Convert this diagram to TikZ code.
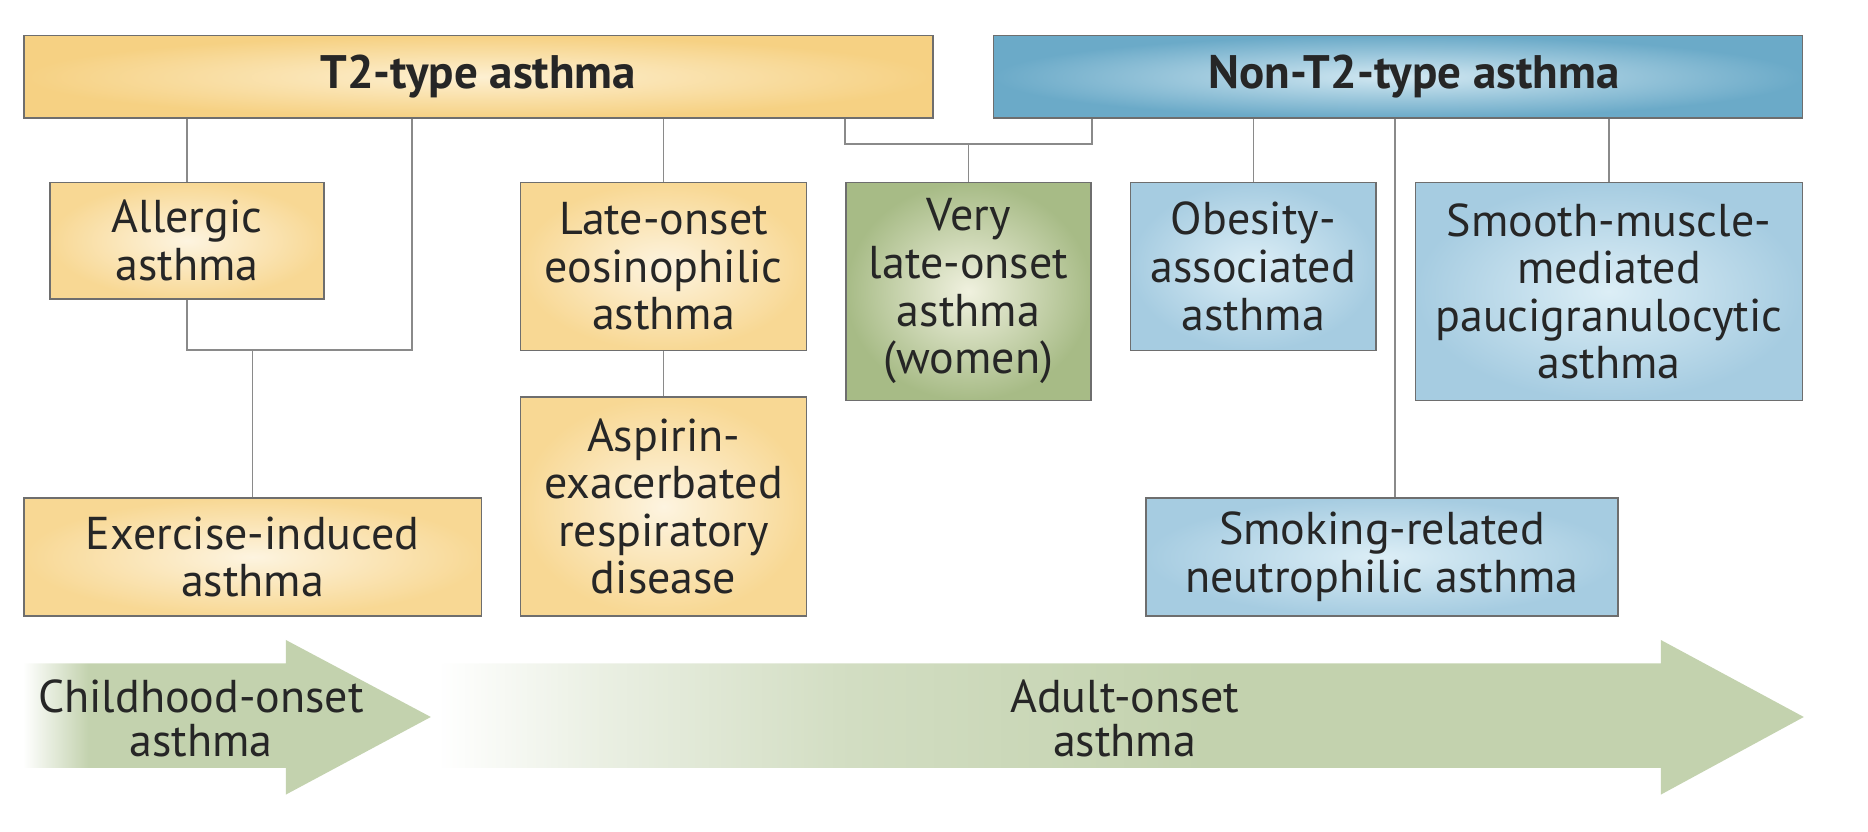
\documentclass[tikz,border=0pt]{standalone}
\usepackage{fontspec}
\usetikzlibrary{fadings}
\setmainfont{PT Sans}
\definecolor{txt}{HTML}{262626}
\definecolor{bordergrey}{HTML}{6E6E6E}
\definecolor{linegrey}{HTML}{8A8A8A}
\definecolor{ohead}{HTML}{F6D183}
\definecolor{oheadin}{HTML}{FDF0D2}
\definecolor{obox}{HTML}{F8D894}
\definecolor{oboxin}{HTML}{FDF4E0}
\definecolor{bhead}{HTML}{6BAAC8}
\definecolor{bheadin}{HTML}{D2E8F2}
\definecolor{bbox}{HTML}{A6CCE1}
\definecolor{bboxin}{HTML}{DCEEF6}
\definecolor{gbox}{HTML}{A7BB86}
\definecolor{gboxin}{HTML}{F0F1DF}
\definecolor{arrowgreen}{HTML}{C3D2AE}
\pgfdeclarehorizontalshading{childmask}{100bp}{color(0bp)=(black); color(25bp)=(black); color(33bp)=(white); color(100bp)=(white)}
\pgfdeclarefading{childfd}{\pgfuseshading{childmask}}
\pgfdeclarehorizontalshading{adultmask}{100bp}{color(0bp)=(black); color(25bp)=(black); color(31bp)=(white!35!black); color(40bp)=(white!75!black); color(53bp)=(white); color(100bp)=(white)}
\pgfdeclarefading{adultfd}{\pgfuseshading{adultmask}}
\newcommand\bodyfnt{\fontsize{46}{47.6}\selectfont}
\newcommand\headfnt{\fontsize{47}{50}\selectfont\bfseries}
\begin{document}
\begin{tikzpicture}[x=1pt,y=-1pt,
  box/.style={draw=bordergrey, line width=1.5pt, align=center, inner sep=0pt, font=\bodyfnt, text=txt},
  headbox/.style={box, font=\headfnt},
  orangehead/.style={headbox, inner color=oheadin, outer color=ohead},
  bluehead/.style={headbox, inner color=bheadin, outer color=bhead},
  orangebox/.style={box, inner color=oboxin, outer color=obox},
  bluebox/.style={box, inner color=bboxin, outer color=bbox},
  greenbox/.style={box, inner color=gboxin, outer color=gbox},
  conn/.style={draw=linegrey, line width=1.5pt},
  arrowlabel/.style={align=center, inner sep=0pt, text=txt, font=\fontsize{46}{44}\selectfont}
]
\useasboundingbox (0,0) rectangle (1868,832);

% arrows
\fill[arrowgreen, path fading=childfd] (23.8,663.5) -- (286,663.5) -- (286,640) -- (431,717) -- (286,794.6) -- (286,768) -- (23.8,768) -- cycle;
\fill[arrowgreen, path fading=adultfd] (440,663.5) -- (1662,663.5) -- (1662,640) -- (1805,717) -- (1662,794.6) -- (1662,768) -- (440,768) -- cycle;
\node[arrowlabel] (child) at (201,718) {Childhood-onset\\asthma};
\node[arrowlabel] (adult) at (1124.6,718) {Adult-onset\\asthma};

% headers
\node[orangehead, minimum width=909pt, minimum height=82.2pt] (t2) at (478.3,76.8) {T2-type asthma};
\node[bluehead, minimum width=808.9pt, minimum height=82.2pt] (nont2) at (1398,76.8) {\hspace*{32pt}Non-T2-type asthma};

% boxes
\node[orangebox, minimum width=274pt, minimum height=116.7pt] (allergic) at (187,240.7) {Allergic\\asthma};
\node[orangebox, minimum width=285.9pt, minimum height=167.9pt] (late) at (663.6,266.3) {Late-onset\\eosinophilic\\asthma};
\node[greenbox, minimum width=245.4pt, minimum height=218pt] (very) at (968.5,291.3) {Very\\late-onset\\asthma\\(women)};
\node[bluebox, minimum width=245.5pt, minimum height=167.9pt] (obesity) at (1253.3,266.3) {Obesity-\\associated\\asthma};
\node[bluebox, minimum width=387.1pt, minimum height=218pt] (smooth) at (1608.9,291.3) {Smooth-muscle-\\mediated\\paucigranulocytic\\asthma};
\node[orangebox, minimum width=457.5pt, minimum height=118pt] (exercise) at (252.6,557) {Exercise-induced\\asthma};
\node[orangebox, minimum width=285.9pt, minimum height=219.3pt] (aspirin) at (663.6,506.4) {Aspirin-\\exacerbated\\respiratory\\disease};
\node[bluebox, minimum width=471.8pt, minimum height=118pt] (smoking) at (1381.9,557) {Smoking-related\\neutrophilic asthma};

% junction coordinates
\coordinate (ajoin) at (412,350.2);
\coordinate (vjoin) at (968.5,144);
\coordinate (smx) at (1395,0);

% connectors
\draw[conn] (t2.south -| allergic.north) -- (allergic.north);
\draw[conn] (allergic.south) -- (allergic.south |- ajoin) -- (ajoin) -- (t2.south -| ajoin);
\draw[conn] (exercise.north) -- (exercise.north |- ajoin);
\draw[conn] (t2.south -| late.north) -- (late.north);
\draw[conn] (late.south) -- (aspirin.north);
\draw[conn] (t2.south -| very.west) -- (very.west |- vjoin) -- (very.east |- vjoin) -- (nont2.south -| very.east);
\draw[conn] (vjoin) -- (very.north);
\draw[conn] (nont2.south -| obesity.north) -- (obesity.north);
\draw[conn] (nont2.south -| smx) -- (smoking.north -| smx);
\draw[conn] (nont2.south -| smooth.north) -- (smooth.north);
\end{tikzpicture}
\end{document}
